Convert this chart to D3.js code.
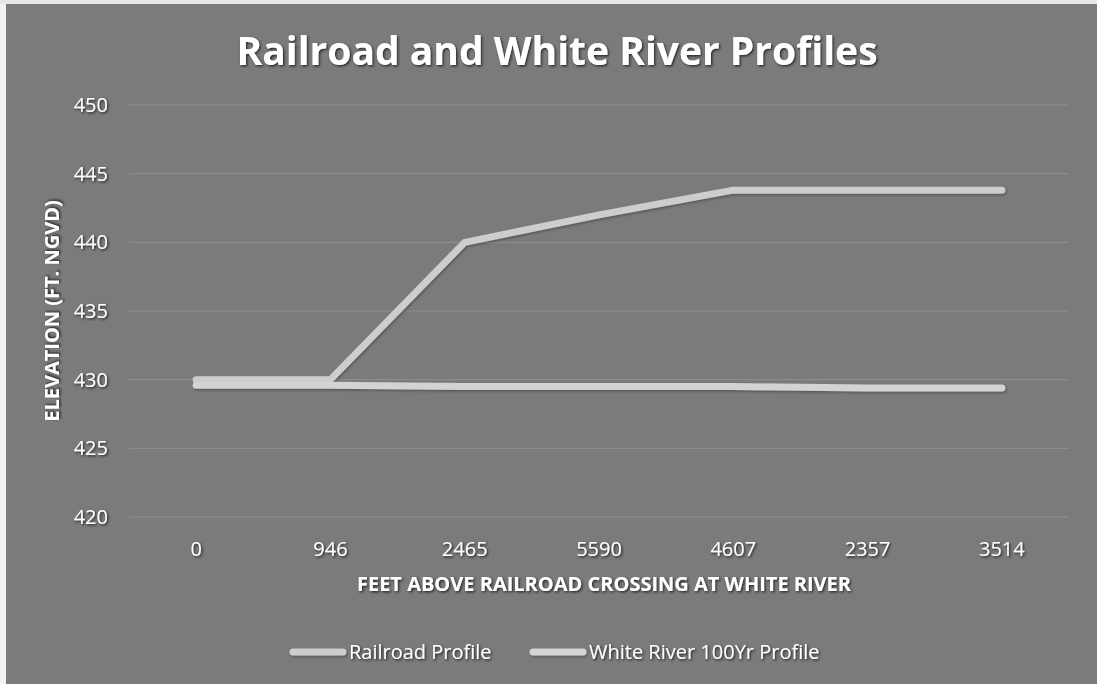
<!DOCTYPE html>
<html>
<head>
<meta charset="utf-8">
<script src="https://cdn.jsdelivr.net/npm/d3@7/dist/d3.min.js"></script>
<style>
  html, body { margin: 0; padding: 0; background: #7a7a7a; }
  svg { display: block; }
  text { font-family: "Open Sans", Lato, sans-serif; fill: #ffffff; }
</style>
</head>
<body>
<svg id="chart" width="1097" height="684"></svg>
<script>
// Station distances along the river (category axis)
const categories = ["0", "946", "2465", "5590", "4607", "2357", "3514"];
// Elevations in ft NGVD
const railroadProfile = [430, 430, 440, 442, 443.8, 443.8, 443.8];
const riverProfile = [429.6, 429.6, 429.5, 429.5, 429.5, 429.4, 429.4];
const yTicks = [420, 425, 430, 435, 440, 445, 450];
const seriesNames = ["Railroad Profile", "White River 100Yr Profile"];

const W = 1097, H = 684;
const svg = d3.select("#chart");

// shadow filters use a generous user-space region so that thin or
// transformed elements are never clipped
const defs = svg.append("defs");
function shadowFilter(id, dx, dy, blur, color, opacity) {
  const f = defs.append("filter").attr("id", id)
    .attr("filterUnits", "userSpaceOnUse")
    .attr("x", -2 * W).attr("y", -2 * H).attr("width", 5 * W).attr("height", 5 * H);
  f.append("feDropShadow").attr("dx", dx).attr("dy", dy)
    .attr("stdDeviation", blur).attr("flood-color", color).attr("flood-opacity", opacity);
}
shadowFilter("txtShadow", 1.3, 1.3, 0.8, "#1a1a1a", 0.9);
shadowFilter("lineShadow", 1, 1.5, 1, "#3a3a3a", 0.6);

// background
svg.append("rect").attr("width", W).attr("height", H).attr("fill", "#7b7b7b");
// light paper edges along the left and top
svg.append("rect").attr("x", 0).attr("y", 0).attr("width", 6).attr("height", H).attr("fill", "#f2f2f2");
svg.append("rect").attr("x", 0).attr("y", 0).attr("width", W).attr("height", 4).attr("fill", "#e6e6e6");

const x = d3.scalePoint().domain(categories).range([129, 1069]).padding(0.5);
const y = d3.scaleLinear().domain([420, 450]).range([517, 105]);

// gridlines
svg.append("g").selectAll("line").data(yTicks).join("line")
  .attr("x1", 129).attr("x2", 1069)
  .attr("y1", d => y(d)).attr("y2", d => y(d))
  .attr("stroke", "#909090").attr("stroke-width", 1);

// y tick labels
svg.append("g").selectAll("text").data(yTicks).join("text")
  .attr("x", 108).attr("y", d => y(d)).attr("dy", "0.35em")
  .attr("text-anchor", "end").attr("font-size", 20)
  .attr("filter", "url(#txtShadow)")
  .text(d => d);

// x tick labels
svg.append("g").selectAll("text").data(categories).join("text")
  .attr("x", d => x(d)).attr("y", 549).attr("dy", "0.35em")
  .attr("text-anchor", "middle").attr("font-size", 20)
  .attr("filter", "url(#txtShadow)")
  .text(d => d);

// title
svg.append("text").attr("x", 557).attr("y", 51).attr("dy", "0.35em")
  .attr("text-anchor", "middle").attr("font-size", 39).attr("font-weight", "bold")
  .attr("filter", "url(#txtShadow)")
  .text("Railroad and White River Profiles");

// axis titles
svg.append("text").attr("x", 604).attr("y", 584).attr("dy", "0.35em")
  .attr("text-anchor", "middle").attr("font-size", 20).attr("font-weight", "bold")
  .attr("filter", "url(#txtShadow)")
  .text("FEET ABOVE RAILROAD CROSSING AT WHITE RIVER");
svg.append("text")
  .attr("transform", "translate(52,311) rotate(-90)").attr("dy", "0.35em")
  .attr("text-anchor", "middle").attr("font-size", 20).attr("font-weight", "bold")
  .attr("filter", "url(#txtShadow)")
  .text("ELEVATION (FT. NGVD)");

// series lines
const line = d3.line().x((d, i) => x(categories[i])).y(d => y(d));
const series = [
  { name: seriesNames[0], values: railroadProfile, color: "#cdcdcd" },
  { name: seriesNames[1], values: riverProfile, color: "#d3d3d3" }
];
svg.append("g").selectAll("path").data(series).join("path")
  .attr("d", d => line(d.values))
  .attr("fill", "none").attr("stroke", d => d.color)
  .attr("stroke-width", 7).attr("stroke-linecap", "round").attr("stroke-linejoin", "round")
  .attr("filter", "url(#lineShadow)");

// legend
const legendItems = [
  { s: series[0], x: 293 },
  { s: series[1], x: 533 }
];
const lg = svg.append("g").selectAll("g").data(legendItems).join("g")
  .attr("transform", d => `translate(${d.x},652)`);
lg.append("line").attr("x1", 0).attr("x2", 50).attr("y1", 0).attr("y2", 0)
  .attr("stroke", d => d.s.color).attr("stroke-width", 7).attr("stroke-linecap", "round")
  .attr("filter", "url(#lineShadow)");
lg.append("text").attr("x", 56).attr("y", 0).attr("dy", "0.35em")
  .attr("font-size", 20).attr("filter", "url(#txtShadow)")
  .text(d => d.s.name);
</script>
</body>
</html>
